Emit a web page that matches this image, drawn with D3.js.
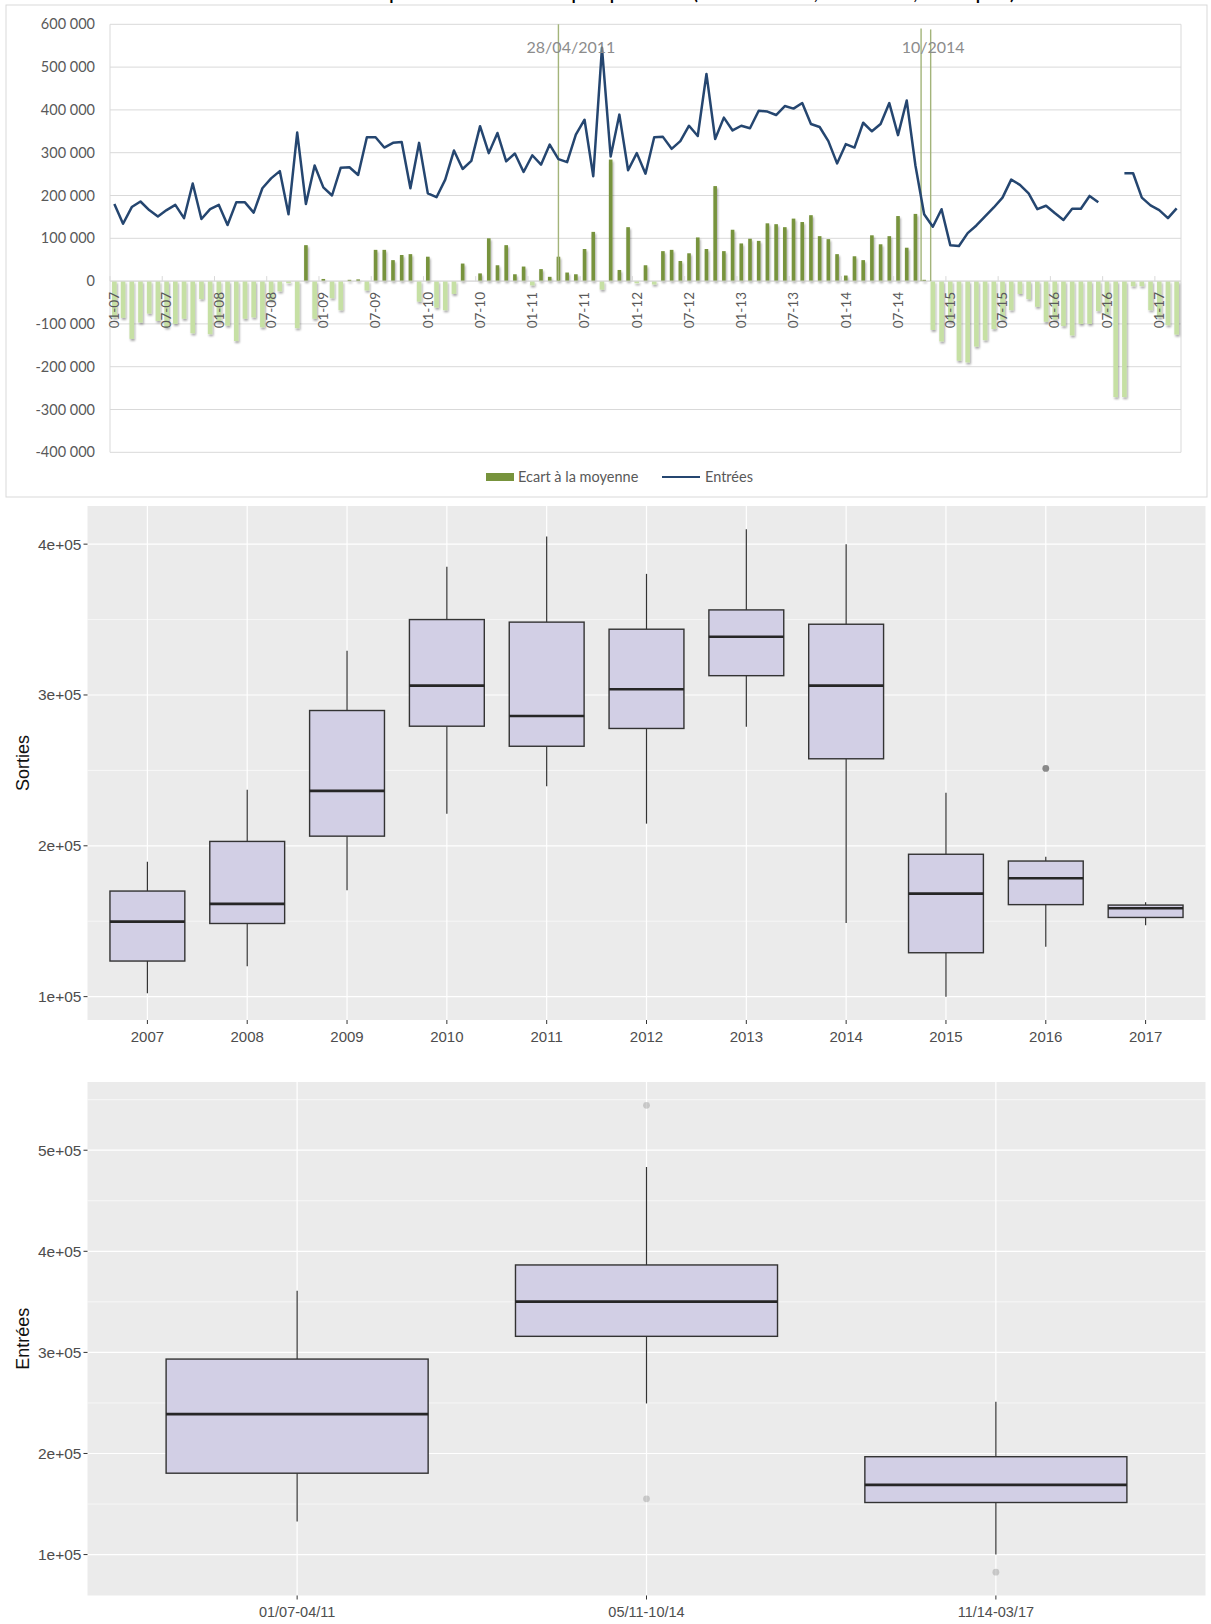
<!DOCTYPE html>
<html><head><meta charset="utf-8">
<script src="https://cdn.jsdelivr.net/npm/d3@7"></script>
<style>body{margin:0;background:#fff;}svg{display:block}</style>
</head><body>
<svg id="c" width="1211" height="1624"></svg>
<script>
// ---------- DATA ----------
const monthRange = [new Date(2007, 0, 1), new Date(2017, 3, 1)]; // Jan 2007 .. Mar 2017 (monthly categories)
const tickLabels = ["01-07","07-07","01-08","07-08","01-09","07-09","01-10","07-10","01-11","07-11","01-12","07-12","01-13","07-13","01-14","07-14","01-15","07-15","01-16","07-16","01-17"];
const yTicksTop = [-400000,-300000,-200000,-100000,0,100000,200000,300000,400000,500000,600000];

const entrees = [
 180000,134000,173000,186000,166000,151000,166000,178000,147000,228000,
 145000,168000,178000,131000,184000,184000,160000,217000,240000,257000,
 156000,347000,180000,270000,219000,200000,265000,266000,248000,336000,
 336000,312000,323000,325000,217000,323000,205000,196000,237000,305000,
 262000,281000,362000,299000,346000,280000,298000,255000,294000,272000,
 319000,285000,278000,342000,377000,245000,545000,291000,389000,259000,
 299000,251000,336000,337000,309000,327000,363000,339000,484000,332000,
 382000,352000,363000,357000,398000,396000,388000,409000,403000,416000,
 367000,360000,327000,275000,320000,312000,370000,350000,367000,416000,
 341000,422000,270000,156000,127000,168000,84000,82000,112000,130000,
 151000,172000,195000,237000,225000,205000,168000,176000,159000,143000,
 169000,169000,199000,184000,null,null,252000,252000,195000,177000,
 166000,147000,170000];

const ecart = [
 -85000,-86000,-135000,-97000,-76000,-93000,-108000,-100000,-88000,-122000,
 -42000,-124000,-95000,-104000,-140000,-88000,-85000,-108000,-45000,-24000,
 -5000,-110000,84000,-88000,5000,-40000,-68000,3000,4000,-22000,
 73000,73000,49000,61000,63000,-48000,57000,-62000,-68000,-30000,
 41000,0,18000,100000,37000,84000,16000,34000,-10000,28000,
 10000,57000,20000,16000,75000,115000,-20000,284000,26000,126000,
 -5000,37000,-8000,70000,73000,47000,65000,102000,75000,222000,
 70000,120000,88000,99000,94000,135000,133000,126000,146000,138000,
 154000,105000,98000,63000,13000,58000,49000,107000,86000,105000,
 152000,78000,157000,3000,-114000,-141000,-95000,-186000,-190000,-153000,
 -138000,-112000,-90000,-68000,-30000,-42000,-60000,-95000,-90000,-105000,
 -127000,-100000,-100000,-70000,-78000,-271000,-271000,-12000,-12000,-68000,
 -85000,-103000,-125000];

const markerLabels = ["28/04/2011", "10/2014"];
const markerMonths = ["2011-04", "2014-10", "2014-11"];

// Box plot 1 : Sorties by year
const years = ["2007","2008","2009","2010","2011","2012","2013","2014","2015","2016","2017"];
const sortiesMin = [102300,120100,170500,221300,239500,214700,279000,148900,100000,133100,147300];
const sortiesQ1  = [123600,148500,206400,279300,266000,277800,312800,257700,129100,161000,152500];
const sortiesMed = [149700,161500,236400,306200,286100,303800,338600,306200,168300,178500,158600];
const sortiesQ3  = [170000,202900,289700,350000,348300,343600,356400,346900,194400,189900,160700];
const sortiesMax = [189400,237200,329400,385000,405100,380300,409800,399900,235200,192700,162600];
const sortiesOut = [{cat:"2016", v:251300}];

// Box plot 2 : Entrées by period
const periods = ["01/07-04/11","05/11-10/14","11/14-03/17"];
const entMin = [132600,249500,100000];
const entQ1  = [180500,315900,151500];
const entMed = [238900,350200,168900];
const entQ3  = [293400,386500,196800];
const entMax = [361100,483400,251200];
const entOut = [{cat:"05/11-10/14", v:544400},{cat:"05/11-10/14", v:155100},{cat:"11/14-03/17", v:82600}];

// ---------- DRAW ----------
const svg = d3.select("#c");
const defs = svg.append("defs");
const flt = defs.append("filter").attr("id","sh").attr("x","-50%").attr("y","-20%").attr("width","200%").attr("height","140%");
flt.append("feGaussianBlur").attr("in","SourceAlpha").attr("stdDeviation",1.3).attr("result","b");
flt.append("feOffset").attr("in","b").attr("dx",1).attr("dy",1.5).attr("result","o");
flt.append("feComponentTransfer").attr("in","o").attr("result","o2").append("feFuncA").attr("type","linear").attr("slope",0.35);
const fmg = flt.append("feMerge"); fmg.append("feMergeNode").attr("in","o2"); fmg.append("feMergeNode").attr("in","SourceGraphic");

// title (cropped at the top of the picture, as in the reference)
svg.append("text").attr("x",640).attr("y",-1.5).attr("text-anchor","middle")
  .style("font-family","Lato, sans-serif").style("font-size","23px").attr("fill","#000")
  .text("Entrées comptées 2007-2017 par période (2007-2011, 2011-14, 3 étapes)");

// ===== TOP CHART =====
const gTop = svg.append("g");
gTop.append("rect").attr("x",6).attr("y",5).attr("width",1201).attr("height",492)
  .attr("fill","#fff").attr("stroke","#d9d9d9").attr("stroke-width",1);

const mkey = d3.timeFormat("%Y-%m");
const months = d3.timeMonth.range(monthRange[0], monthRange[1]).map(mkey);
const x1 = d3.scaleBand().domain(months).range([110, 1181]);
const y1 = d3.scaleLinear().domain([-400000, 600000]).range([452.3, 24.3]);
const bw = x1.bandwidth();
const cx = i => x1(months[i]) + bw / 2;
const fmtTop = d3.formatLocale({decimal:",", thousands:" ", grouping:[3], currency:["",""], minus:"-"}).format(",d");
const font1 = "Lato, 'Open Sans', sans-serif";

gTop.selectAll("line.g").data(yTicksTop).join("line")
  .attr("x1",110).attr("x2",1181).attr("y1",d=>y1(d)).attr("y2",d=>y1(d))
  .attr("stroke","#d9d9d9").attr("stroke-width",1);
gTop.append("line").attr("x1",110).attr("x2",110).attr("y1",y1(600000)).attr("y2",y1(-400000)).attr("stroke","#d9d9d9");
gTop.append("line").attr("x1",1181).attr("x2",1181).attr("y1",y1(600000)).attr("y2",y1(-400000)).attr("stroke","#d9d9d9");

gTop.selectAll("text.yl").data(yTicksTop).join("text")
  .attr("x",95).attr("y",d=>y1(d)).attr("dy","0.35em").attr("text-anchor","end")
  .style("font-family",font1).style("font-size","14.5px").attr("fill","#595959")
  .text(d=>fmtTop(d));

// bars
const gb = gTop.append("g").attr("filter","url(#sh)");
gb.selectAll("rect").data(ecart.map((v,i)=>({v,i}))).join("rect")
  .attr("x",d=> cx(d.i) - (d.v<0?2.3:1.8))
  .attr("width",d=> d.v<0?4.6:3.6)
  .attr("y",d=>y1(Math.max(0,d.v)))
  .attr("height",d=>Math.abs(y1(d.v)-y1(0)))
  .attr("fill",d=>d.v<0?"#c6e0a4":"#77933c");

// x ticks on zero line
const tkey = d => "20"+d.slice(3)+"-"+d.slice(0,2);
gTop.selectAll("line.xt").data(tickLabels).join("line")
  .attr("x1",d=>x1(tkey(d))).attr("x2",d=>x1(tkey(d)))
  .attr("y1",y1(0)-5).attr("y2",y1(0)).attr("stroke","#d9d9d9");
gTop.append("line").attr("x1",110).attr("x2",1181).attr("y1",y1(0)).attr("y2",y1(0)).attr("stroke","#d9d9d9");

gTop.selectAll("text.xl").data(tickLabels).join("text")
  .attr("transform",d=>`translate(${x1(tkey(d))+bw/2},292) rotate(-90)`)
  .attr("text-anchor","end").attr("dy","0.35em")
  .style("font-family",font1).style("font-size","13.5px").attr("fill","#595959")
  .text(d=>d);

// marker lines
const mk = [
  {m:markerMonths[0], frac:0.5, topV:600000},
  {m:markerMonths[1], frac:0.15, topV:590000},
  {m:markerMonths[2], frac:0.25, topV:588000}
];
gTop.selectAll("line.mk").data(mk).join("line")
  .attr("x1",d=>x1(d.m)+bw*d.frac).attr("x2",d=>x1(d.m)+bw*d.frac)
  .attr("y1",d=>y1(d.topV)).attr("y2",y1(0))
  .attr("stroke","#a3b47a").attr("stroke-width",1.4);

// line
const lineGen = d3.line().defined(d=>d.v!=null).x(d=>cx(d.i)).y(d=>y1(d.v));
gTop.append("path").datum(entrees.map((v,i)=>({v,i})))
  .attr("d",lineGen).attr("fill","none").attr("stroke","#254670").attr("stroke-width",2.5)
  .attr("stroke-linejoin","round");

gTop.append("text").attr("x",x1(markerMonths[0])+bw*0.5+12.5).attr("y",47).attr("dy","0.35em")
  .attr("text-anchor","middle").style("font-family",font1).style("font-size","16px").attr("fill","#8c8c8c")
  .text(markerLabels[0]);
gTop.append("text").attr("x",x1(markerMonths[1])+bw*0.15+12).attr("y",47).attr("dy","0.35em")
  .attr("text-anchor","middle").style("font-family",font1).style("font-size","16px").attr("fill","#8c8c8c")
  .text(markerLabels[1]);

// legend
gTop.append("rect").attr("x",486).attr("y",473).attr("width",28).attr("height",8).attr("fill","#77933c");
gTop.append("text").attr("x",518).attr("y",477).attr("dy","0.35em").style("font-family",font1)
  .style("font-size","14.5px").attr("fill","#595959").text("Ecart à la moyenne");
gTop.append("line").attr("x1",662).attr("x2",700).attr("y1",477).attr("y2",477).attr("stroke","#254670").attr("stroke-width",2.2);
gTop.append("text").attr("x",705).attr("y",477).attr("dy","0.35em").style("font-family",font1)
  .style("font-size","14.5px").attr("fill","#595959").text("Entrées");

// ===== BOX PLOTS =====
function boxPanel(o){
  const L = 87.5, R = 1205.5;
  const g = svg.append("g");
  const allv = o.mins.concat(o.maxs, o.out.map(d=>d.v));
  const [lo, hi] = d3.extent(allv); const pad = (hi-lo)*0.05;
  const y = d3.scaleLinear().domain([lo-pad, hi+pad]).range([o.bottom, o.top]);
  const x = d3.scalePoint().domain(o.cats).range([L, R]).padding(0.6);
  const step = x.step();
  g.append("rect").attr("x",L).attr("y",o.top).attr("width",R-L).attr("height",o.bottom-o.top).attr("fill","#ebebeb");
  const dom = y.domain();
  const majors = d3.range(100000, 700000, 100000).filter(v=>v>=dom[0]&&v<=dom[1]);
  const minors = d3.range(50000, 700000, 100000).filter(v=>v>=dom[0]&&v<=dom[1]);
  g.selectAll("line.mi").data(minors).join("line").attr("x1",L).attr("x2",R)
    .attr("y1",d=>y(d)).attr("y2",d=>y(d)).attr("stroke","#fff").attr("stroke-width",0.6);
  g.selectAll("line.ma").data(majors).join("line").attr("x1",L).attr("x2",R)
    .attr("y1",d=>y(d)).attr("y2",d=>y(d)).attr("stroke","#fff").attr("stroke-width",1.2);
  g.selectAll("line.mv").data(o.cats).join("line").attr("x1",d=>x(d)).attr("x2",d=>x(d))
    .attr("y1",o.top).attr("y2",o.bottom).attr("stroke","#fff").attr("stroke-width",1.2);

  const bwid = step*0.75;
  const stroke = "#333333";
  o.cats.forEach((c,i)=>{
    const xc = x(c);
    g.append("line").attr("x1",xc).attr("x2",xc).attr("y1",y(o.q3s[i])).attr("y2",y(o.maxs[i])).attr("stroke",stroke).attr("stroke-width",1.2);
    g.append("line").attr("x1",xc).attr("x2",xc).attr("y1",y(o.q1s[i])).attr("y2",y(o.mins[i])).attr("stroke",stroke).attr("stroke-width",1.2);
    g.append("rect").attr("x",xc-bwid/2).attr("width",bwid).attr("y",y(o.q3s[i])).attr("height",y(o.q1s[i])-y(o.q3s[i]))
      .attr("fill","#d2cfe5").attr("stroke",stroke).attr("stroke-width",1.4);
    g.append("line").attr("x1",xc-bwid/2).attr("x2",xc+bwid/2).attr("y1",y(o.meds[i])).attr("y2",y(o.meds[i])).attr("stroke","#262626").attr("stroke-width",2.6);
  });
  g.selectAll("circle").data(o.out).join("circle").attr("cx",d=>x(d.cat)).attr("cy",d=>y(d.v)).attr("r",3.4)
    .attr("fill",o.outFill).attr("fill-opacity",o.outOp);

  const font2 = "'Liberation Sans', Arial, sans-serif";
  g.selectAll("line.yt").data(majors).join("line").attr("x1",L-4).attr("x2",L).attr("y1",d=>y(d)).attr("y2",d=>y(d)).attr("stroke","#333");
  g.selectAll("text.yl").data(majors).join("text").attr("x",L-6).attr("y",d=>y(d)).attr("dy","0.35em").attr("text-anchor","end")
    .style("font-family",font2).style("font-size",o.yfs).attr("fill","#4d4d4d")
    .text(d=>d3.format(".0e")(d).replace("e+","e+0"));
  g.selectAll("line.xt").data(o.cats).join("line").attr("x1",d=>x(d)).attr("x2",d=>x(d)).attr("y1",o.bottom).attr("y2",o.bottom+4).attr("stroke","#333");
  g.selectAll("text.xl").data(o.cats).join("text").attr("x",d=>x(d)).attr("y",o.bottom+16.5).attr("dy","0.35em").attr("text-anchor","middle")
    .style("font-family",font2).style("font-size",o.xfs).attr("fill","#4d4d4d").text(d=>d);
  g.append("text").attr("transform",`translate(23,${(o.top+o.bottom)/2}) rotate(-90)`).attr("text-anchor","middle").attr("dy","0.35em")
    .style("font-family",font2).style("font-size","18px").attr("fill","#111").text(o.title);
}

boxPanel({top:506, bottom:1020, cats:years, mins:sortiesMin, q1s:sortiesQ1, meds:sortiesMed, q3s:sortiesQ3, maxs:sortiesMax,
  out:sortiesOut, title:"Sorties", outFill:"#666", outOp:0.75, xfs:"15px", yfs:"15.5px"});
boxPanel({top:1082, bottom:1595.5, cats:periods, mins:entMin, q1s:entQ1, meds:entMed, q3s:entQ3, maxs:entMax,
  out:entOut, title:"Entrées", outFill:"#999", outOp:0.45, xfs:"14.5px", yfs:"15.5px"});
</script>
</body></html>
